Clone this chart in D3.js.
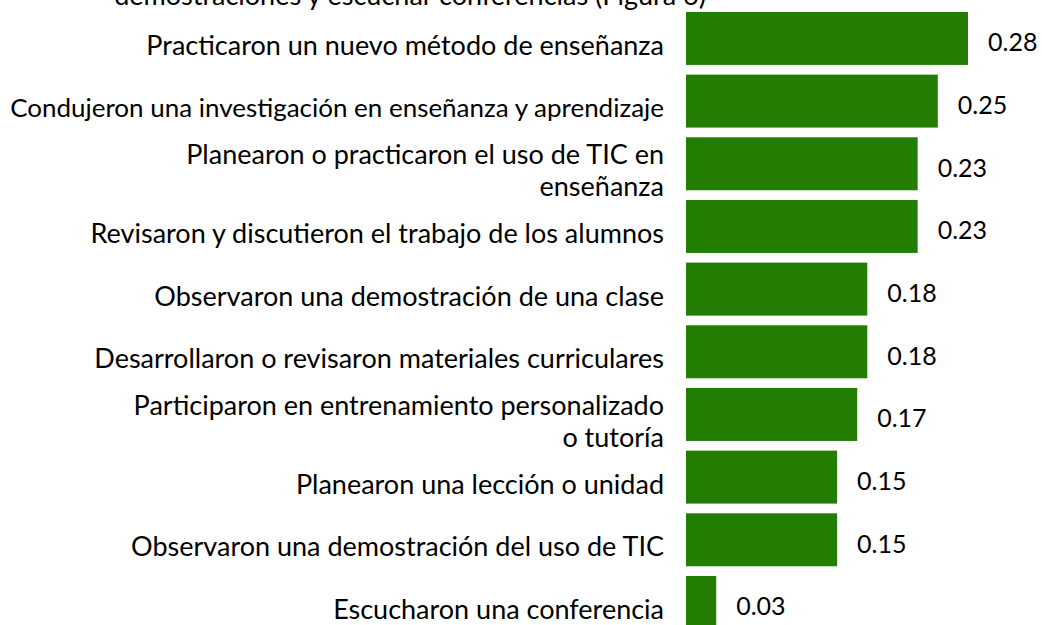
<!DOCTYPE html>
<html>
<head>
<meta charset="utf-8">
<script src="https://cdn.jsdelivr.net/npm/d3@7"></script>
<style>
    body { margin: 0; background: #fff; }
    svg { display: block; font-family: Lato, "Open Sans", sans-serif; }
</style>
</head>
<body>
<div id="chart"></div>
<script>
// data, top to bottom
const categories = [
    "Practicaron un nuevo método de enseñanza",
    "Condujeron una investigación en enseñanza y aprendizaje",
    "Planearon o practicaron el uso de TIC en\nenseñanza",
    "Revisaron y discutieron el trabajo de los alumnos",
    "Observaron una demostración de una clase",
    "Desarrollaron o revisaron materiales curriculares",
    "Participaron en entrenamiento personalizado\no tutoría",
    "Planearon una lección o unidad",
    "Observaron una demostración del uso de TIC",
    "Escucharon una conferencia"
];
const values = [0.28, 0.25, 0.23, 0.23, 0.18, 0.18, 0.17, 0.15, 0.15, 0.03];
const titleLine = "demostraciones y escuchar conferencias (Figura 6)";

class BarChart{
    constructor(parentSelector){
        this.parent = d3.select(parentSelector);
        this.dataset = categories.map((c, i) => ({ label: c, value: values[i] }));

        this.wSvg = 1042;
        this.hSvg = 625;
        this.barLeft = 686;
        this.labelRight = 664;
        this.fontSize = 27;
        this.color = "#227d02";
        this.init();
    }

    init(){
        this.svg = this.parent.append("svg")
            .attr("width", this.wSvg)
            .attr("height", this.hSvg);

        this.prepScales();
        this.render();
    }

    prepScales(){
        const step = 62.67;
        const y0 = 7.1;
        this.yScale = d3.scaleBand()
            .domain(categories)
            .range([y0, y0 + step * categories.length])
            .paddingInner(0.155)
            .paddingOuter(0.0775);

        this.xScale = d3.scaleLinear()
            .domain([0, 0.28])
            .range([this.barLeft, 968]);
    }

    render(){
        const bw = this.yScale.bandwidth();

        // title line, cut off at the top like the source slide
        this.svg.append("text")
            .attr("x", 410)
            .attr("y", 5)
            .attr("text-anchor", "middle")
            .attr("font-size", this.fontSize)
            .attr("fill", "#000")
            .text(titleLine);

        this.svg.selectAll("rect.bar")
            .data(this.dataset)
            .enter()
            .append("rect")
                .attr("class", "bar")
                .attr("x", this.xScale(0))
                .attr("y", d => this.yScale(d.label))
                .attr("width", d => this.xScale(d.value) - this.xScale(0))
                .attr("height", bw)
                .attr("fill", this.color);

        this.svg.selectAll("text.value")
            .data(this.dataset)
            .enter()
            .append("text")
                .attr("class", "value")
                .attr("x", d => this.xScale(d.value) + 20)
                .attr("y", d => this.yScale(d.label) + bw / 2 + 4)
                .attr("dy", "0.35em")
                .attr("font-size", 25)
                .attr("fill", "#000")
                .text(d => d3.format(".2f")(d.value));

        const lineH = 32;
        const labels = this.svg.selectAll("text.cat")
            .data(this.dataset)
            .enter()
            .append("text")
                .attr("class", "cat")
                .attr("text-anchor", "end")
                .attr("font-size", this.fontSize)
                .attr("fill", "#000")
                .attr("transform", d => {
                    const lines = d.label.split("\n");
                    const cy = this.yScale(d.label) + bw / 2 + 7 - (lines.length - 1) * lineH / 2;
                    return `translate(${this.labelRight},${cy})`;
                });

        labels.selectAll("tspan")
            .data(d => d.label.split("\n"))
            .enter()
            .append("tspan")
                .attr("x", 0)
                .attr("y", (d, i) => i * lineH)
                .attr("dy", "0.35em")
                .text(d => d);

        // shrink any label wider than the room left of the bars
        const maxW = this.labelRight - 10;
        const fs = this.fontSize;
        labels.each(function(){
            const w = this.getBBox().width;
            if (w > maxW) {
                d3.select(this).attr("font-size", fs * maxW / w);
            }
        });
    }
}

new BarChart("#chart");
</script>
</body>
</html>
